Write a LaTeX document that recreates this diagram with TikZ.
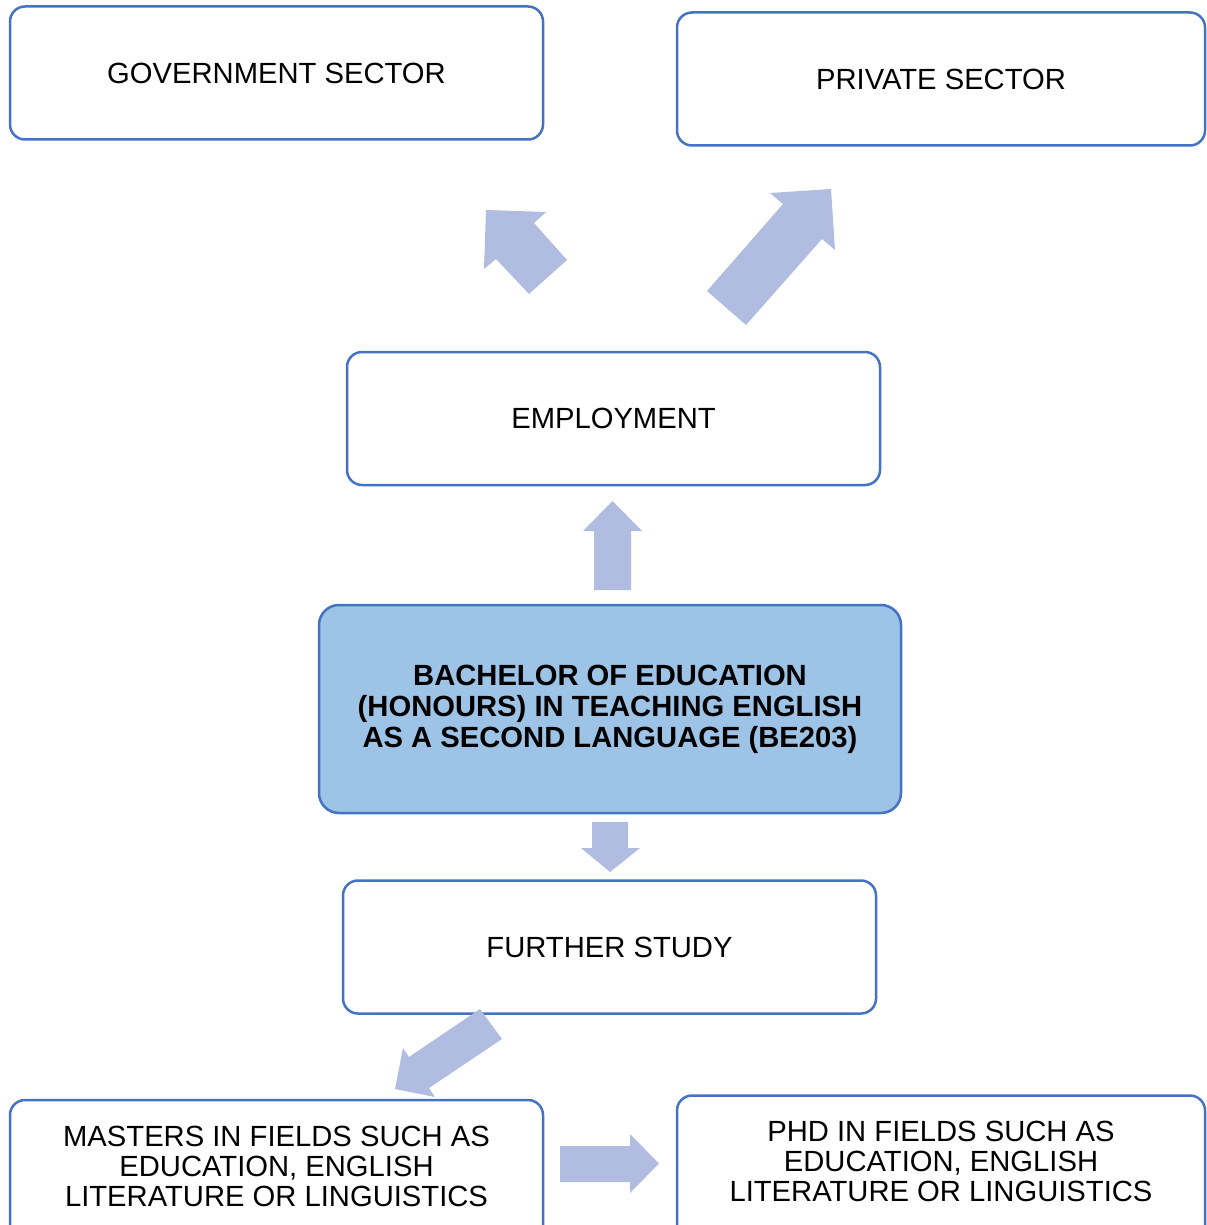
\documentclass[tikz,border=0pt]{standalone}
\usepackage{fontspec}
\setmainfont{Liberation Sans}
\usepackage{tikz}
\usetikzlibrary{positioning}

\definecolor{boxblue}{RGB}{68,114,196}
\definecolor{degreefill}{RGB}{157,195,230}
\definecolor{arrowblue}{RGB}{176,189,224}

\tikzset{
  frame/.style={draw=boxblue, line width=1.25pt, rounded corners=7.5pt},
  box/.style={frame, fill=white,
    minimum width=266.5pt, minimum height=66.5pt, align=center, inner sep=0pt,
    font=\fontsize{14.6}{15}\selectfont},
  opentext/.style={box, draw=none, fill=none},
  degreebox/.style={box, fill=degreefill, rounded corners=10pt,
    minimum width=291pt, minimum height=104pt,
    font=\fontsize{14.6}{15.5}\selectfont\bfseries},
  blockarrow/.style={fill=arrowblue, draw=none}
}

\begin{document}
\begin{tikzpicture}[x=0.5pt,y=-0.5pt]
\useasboundingbox (0,0) rectangle (1206,1225);

% boxes
\node[box] (gov) at (276.5,73) {GOVERNMENT SECTOR};
\node[box, minimum width=264pt] (priv) at (941,79) {PRIVATE SECTOR};
\node[box] (employ) at (613.5,418.5) {EMPLOYMENT};
\node[degreebox] (degree) at (610,709) {BACHELOR OF EDUCATION\\(HONOURS) IN TEACHING ENGLISH\\AS A SECOND LANGUAGE (BE203)};
\node[box] (study) at (609.5,947) {FURTHER STUDY};
\node[opentext] (masters) at (276.5,1166) {MASTERS IN FIELDS SUCH AS\\EDUCATION, ENGLISH\\LITERATURE OR LINGUISTICS};
\node[opentext] (phd) at (941,1161.5) {PHD IN FIELDS SUCH AS\\EDUCATION, ENGLISH\\LITERATURE OR LINGUISTICS};
%bottom boxes run off the page
\draw[frame] (masters.center) ++(-266.5,-66) rectangle ++(533,180);
\draw[frame] (phd.center) ++(-264,-66) rectangle ++(528,180);

% block arrows
%to government sector
\fill[blockarrow] (567,260) -- (534,223) -- (546,212) -- (486,210) -- (484,269) -- (496,259) -- (529,294) -- cycle;
%to private sector
\fill[blockarrow] (707,291) -- (783,204) -- (770,193) -- (831,189) -- (835,250) -- (822,239) -- (746,325) -- cycle;
%to employment
\fill[blockarrow] (594,590) -- (594,531) -- (583,531) -- (612.5,501) -- (642,531) -- (631,531) -- (631,590) -- cycle;
%to further study
\fill[blockarrow] (592,822) -- (592,848) -- (581,848) -- (610,872) -- (640,848) -- (628,848) -- (628,822) -- cycle;
%to masters
\fill[blockarrow] (480,1009) -- (409,1057) -- (403,1048) -- (395,1089) -- (435,1097) -- (429,1088) -- (502,1039) -- cycle;
%to phd
\fill[blockarrow] (560,1146) -- (630,1146) -- (630,1134) -- (659,1163.5) -- (630,1193) -- (630,1182) -- (560,1182) -- cycle;

\end{tikzpicture}
\end{document}
